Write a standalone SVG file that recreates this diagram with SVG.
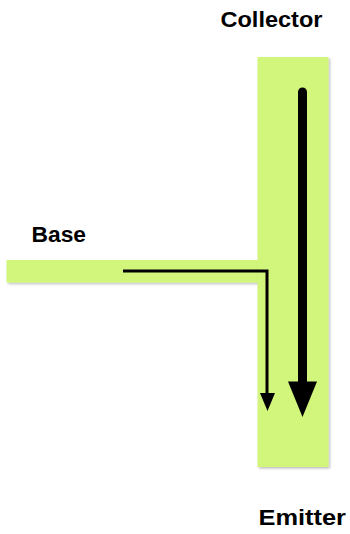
<svg xmlns="http://www.w3.org/2000/svg" width="350" height="534" viewBox="0 0 350 534">
<style>
.lbl{font-family:"Liberation Sans",Arial,sans-serif;font-weight:bold;font-size:22px;fill:#000}
.bar{fill:#d2f67c;filter:url(#sh)}
</style>
<defs>
<filter id="sh" x="-10%" y="-10%" width="130%" height="130%">
<feDropShadow dx="1.5" dy="1.5" stdDeviation="1" flood-color="#000" flood-opacity="0.25"/>
</filter>
</defs>
<rect width="350" height="534" fill="#fff"/>
<g id="base-lead"><rect class="bar" x="6.5" y="260" width="252" height="22.5"/></g>
<g id="collector-emitter"><rect class="bar" x="257.5" y="57" width="71" height="410"/></g>
<g id="connectors">
<path d="M123,271 H267 V396" fill="none" stroke="#000" stroke-width="3"/>
<polygon points="260,393 275,393 267.5,411" fill="#000"/>
<path d="M302.5,92 V384" fill="none" stroke="#000" stroke-width="9" stroke-linecap="round"/>
<polygon points="288,381.5 317,381.5 302.5,417" fill="#000"/>
</g>
<g id="label-collector"><text class="lbl" x="220.5" y="27" textLength="102" lengthAdjust="spacingAndGlyphs">Collector</text></g>
<g id="label-base"><text class="lbl" x="31.5" y="242" textLength="54.5" lengthAdjust="spacingAndGlyphs">Base</text></g>
<g id="label-emitter"><text class="lbl" x="258.5" y="525" textLength="87.5" lengthAdjust="spacingAndGlyphs">Emitter</text></g>
</svg>
